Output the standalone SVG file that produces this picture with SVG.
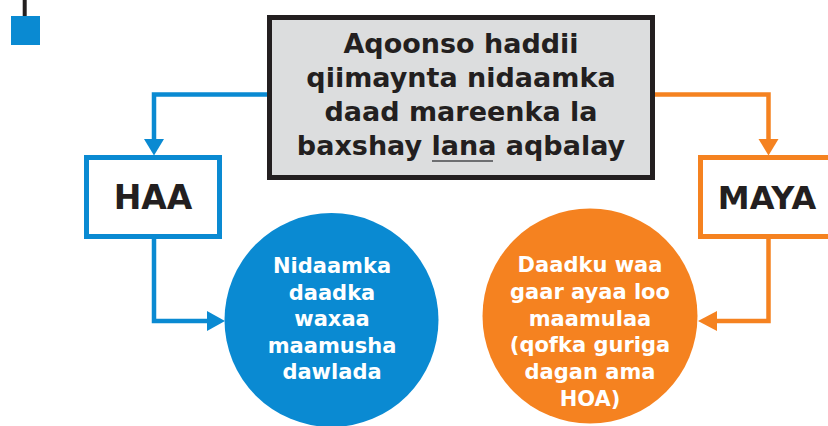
<svg xmlns="http://www.w3.org/2000/svg" width="828" height="426" viewBox="0 0 828 426">
<style>
.t{font-family:"DejaVu Sans","Liberation Sans",sans-serif;font-weight:bold;text-anchor:middle}
.dark{fill:#231f20}
.white{fill:#ffffff}
.bl{stroke:#0a8ad2;stroke-width:4.5;fill:none}
.or{stroke:#f58220;stroke-width:4.5;fill:none}
</style>
<rect width="828" height="426" fill="#ffffff"/>
<g id="corner">
<line x1="24.7" y1="0" x2="24.7" y2="17" stroke="#231f20" stroke-width="4"/>
<rect x="11" y="16" width="29" height="29" fill="#0a8ad2"/>
</g>
<g id="connectors">
<polyline class="bl" points="268,94.5 154,94.5 154,141"/>
<polygon points="144,139 164,139 154,155.5" fill="#0a8ad2"/>
<polyline class="bl" points="154,238 154,321 209,321"/>
<polygon points="207,311 207,331 225,321" fill="#0a8ad2"/>
<polyline class="or" points="654,94.5 768.5,94.5 768.5,141"/>
<polygon points="758.5,139 778.5,139 768.5,155.5" fill="#f58220"/>
<polyline class="or" points="768.5,238 768.5,321 715,321"/>
<polygon points="717,311 717,331 698,321" fill="#f58220"/>
</g>
<g id="question">
<rect x="269.5" y="17.5" width="383" height="160" fill="#dcddde" stroke="#231f20" stroke-width="5"/>
<text class="t dark" font-size="27" x="461" y="53">Aqoonso haddii</text>
<text class="t dark" font-size="27" x="461" y="87">qiimaynta nidaamka</text>
<text class="t dark" font-size="27" x="461" y="121">daad mareenka la</text>
<text class="t dark" font-size="27" x="461" y="155">baxshay lana aqbalay</text>
<line x1="432" y1="161" x2="493" y2="161" stroke="#6d6e71" stroke-width="2"/>
</g>
<g id="haa">
<rect x="86.5" y="157.5" width="133" height="79" fill="#ffffff" stroke="#0a8ad2" stroke-width="5"/>
<text class="t dark" font-size="33" x="153" y="209">HAA</text>
</g>
<g id="maya">
<rect x="700.5" y="157.5" width="133" height="79" fill="#ffffff" stroke="#f58220" stroke-width="5"/>
<text class="t dark" font-size="32" x="767" y="209">MAYA</text>
</g>
<g id="haa-result">
<circle cx="331.5" cy="320" r="107" fill="#0a8ad2"/>
<text class="t white" font-size="21" x="332" y="273">Nidaamka</text>
<text class="t white" font-size="21" x="332" y="299.5">daadka</text>
<text class="t white" font-size="21" x="332" y="326">waxaa</text>
<text class="t white" font-size="21" x="332" y="352.5">maamusha</text>
<text class="t white" font-size="21" x="332" y="379">dawlada</text>
</g>
<g id="maya-result">
<circle cx="590" cy="316" r="107.5" fill="#f58220"/>
<text class="t white" font-size="21" x="590" y="272">Daadku waa</text>
<text class="t white" font-size="21" x="590" y="298.5">gaar ayaa loo</text>
<text class="t white" font-size="21" x="590" y="325.5">maamulaa</text>
<text class="t white" font-size="21" x="590" y="352">(qofka guriga</text>
<text class="t white" font-size="21" x="590" y="378.5">dagan ama</text>
<text class="t white" font-size="21" x="590" y="405.5">HOA)</text>
</g>
</svg>
